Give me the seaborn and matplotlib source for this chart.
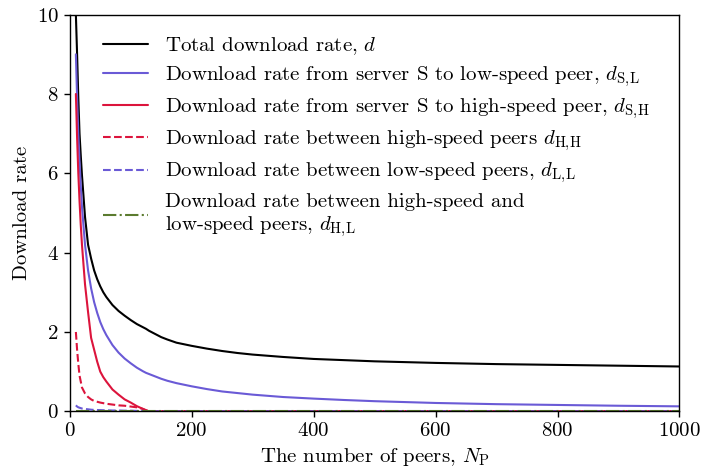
import numpy as np
import pandas as pd
import matplotlib
matplotlib.use("Agg")
import matplotlib.pyplot as plt
import seaborn as sns

# ---- data ----
n_peers = [10, 12, 14, 16, 18, 20, 25, 30, 35, 40, 45, 50, 55, 60, 70, 80, 90, 100,
           110, 120, 125, 130, 140, 150, 160, 175, 200, 225, 250, 275, 300, 350, 400,
           450, 500, 600, 700, 800, 900, 1000]

d_total = [10.0, 9.0, 7.9, 7.0, 6.45, 5.95, 4.9, 4.2, 3.85, 3.55, 3.33, 3.15, 3.0, 2.88, 2.68, 2.53, 2.41, 2.30,
           2.20, 2.12, 2.08, 2.03, 1.95, 1.87, 1.81, 1.73, 1.65, 1.58, 1.52, 1.47, 1.43, 1.37, 1.32,
           1.29, 1.26, 1.22, 1.19, 1.17, 1.15, 1.13]

d_SL = [9.0, 7.9, 7.0, 6.3, 5.7, 5.15, 4.2, 3.55, 3.1, 2.75, 2.48, 2.25, 2.07, 1.92, 1.67, 1.48, 1.33, 1.21,
        1.10, 1.01, 0.97, 0.94, 0.88, 0.82, 0.77, 0.71, 0.63, 0.56, 0.50, 0.46, 0.42, 0.36, 0.32,
        0.285, 0.255, 0.21, 0.18, 0.16, 0.14, 0.125]

d_SH = [8.0, 6.9, 6.0, 5.3, 4.7, 4.2, 3.2, 2.5, 1.85, 1.55, 1.25, 1.0, 0.86, 0.75, 0.55, 0.42, 0.30, 0.22,
        0.13, 0.06, 0.02, 0.0, 0.0, 0.0, 0.0, 0.0, 0.0, 0.0, 0.0, 0.0, 0.0, 0.0, 0.0,
        0.0, 0.0, 0.0, 0.0, 0.0, 0.0, 0.0]

d_HH = [2.0, 1.55, 1.2, 0.9, 0.75, 0.6, 0.45, 0.36, 0.30, 0.26, 0.24, 0.22, 0.205, 0.19, 0.17, 0.15, 0.14, 0.12,
        0.10, 0.06, 0.03, 0.0, 0.0, 0.0, 0.0, 0.0, 0.0, 0.0, 0.0, 0.0, 0.0, 0.0, 0.0,
        0.0, 0.0, 0.0, 0.0, 0.0, 0.0, 0.0]

d_LL = [0.15, 0.12, 0.10, 0.09, 0.08, 0.07, 0.06, 0.05, 0.04, 0.035, 0.032, 0.03, 0.027, 0.025, 0.02, 0.02, 0.015, 0.015,
        0.01, 0.01, 0.005, 0.0, 0.0, 0.0, 0.0, 0.0, 0.0, 0.0, 0.0, 0.0, 0.0, 0.0, 0.0,
        0.0, 0.0, 0.0, 0.0, 0.0, 0.0, 0.0]

d_HL = [0.0] * len(n_peers)

labels = [
    r"Total download rate, $d$",
    r"Download rate from server S to low-speed peer, $d_{\mathrm{S,\!L}}$",
    r"Download rate from server S to high-speed peer, $d_{\mathrm{S,\!H}}$",
    r"Download rate between high-speed peers $d_{\mathrm{H,\!H}}$",
    r"Download rate between low-speed peers, $d_{\mathrm{L,\!L}}$",
    "Download rate between high-speed and\n" + r"low-speed peers, $d_{\mathrm{H,\!L}}$",
]
x_ticks = [0, 200, 400, 600, 800, 1000]
y_ticks = [0, 2, 4, 6, 8, 10]

# ---- style ----
sns.set_style("ticks")
plt.rcParams["font.family"] = ["cmr10", "DejaVu Serif"]
plt.rcParams["mathtext.fontset"] = "cm"
plt.rcParams["axes.formatter.use_mathtext"] = True
plt.rcParams["axes.unicode_minus"] = False
plt.rcParams["axes.edgecolor"] = "black"
plt.rcParams["xtick.color"] = "black"
plt.rcParams["ytick.color"] = "black"
plt.rcParams["text.color"] = "black"
plt.rcParams["axes.labelcolor"] = "black"

FS = 15

series = [d_total, d_SL, d_SH, d_HH, d_LL, d_HL]
colors = ["black", "#6a5ad6", "#dc143c", "#dc143c", "#6a5ad6", "#5b7b2f"]
styles = ["-", "-", "-", "--", "--", "-."]

fig = plt.figure(figsize=(7.02, 4.72), dpi=100)
ax = fig.add_axes([0.0994, 0.1286, 0.8685, 0.8403])

for vals, c, ls, lab in zip(series, colors, styles, labels):
    sns.lineplot(x=n_peers, y=vals, color=c, linestyle=ls, linewidth=1.5,
                 label=lab, ax=ax)

ax.set_xlim(0, 1000)
ax.set_ylim(0, 10)
ax.set_xticks(x_ticks)
ax.set_yticks(y_ticks)
ax.tick_params(labelsize=FS, direction="out", length=4.5, width=1, pad=3.5)
for s in ax.spines.values():
    s.set_linewidth(1.0)
ax.set_xlabel(r"The number of peers, $N_{\mathrm{P}}$", fontsize=FS)
ax.set_ylabel("Download rate", fontsize=FS)

ax.legend(loc="upper left", bbox_to_anchor=(0.0406, 0.970), frameon=False,
          fontsize=FS, handlelength=2.16, handletextpad=0.82,
          labelspacing=0.35, borderaxespad=0.0)

fig.savefig("out.png", dpi=100)
